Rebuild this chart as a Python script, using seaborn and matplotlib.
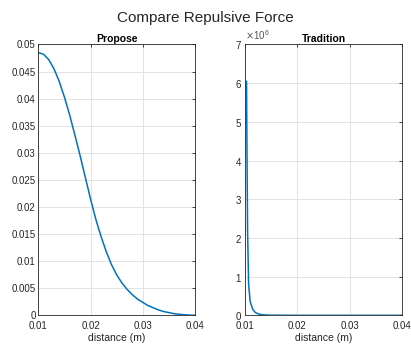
import matplotlib
matplotlib.use("Agg")
import numpy as np
import pandas as pd
import matplotlib.pyplot as plt
import seaborn as sns
from matplotlib.ticker import ScalarFormatter

# Propose curve
propose_x = [0.010, 0.011, 0.012, 0.013, 0.014, 0.015, 0.016, 0.017, 0.018, 0.019,
             0.020, 0.021, 0.022, 0.023, 0.024, 0.025, 0.026, 0.027, 0.028, 0.029,
             0.030, 0.031, 0.032, 0.033, 0.034, 0.035, 0.036, 0.037, 0.038, 0.039, 0.040]
propose_y = [0.0485, 0.0482, 0.0472, 0.0455, 0.0432, 0.0403, 0.0370, 0.0333, 0.0295, 0.0255,
             0.0215, 0.0178, 0.0146, 0.0118, 0.0094, 0.0075, 0.0060, 0.0048, 0.0038, 0.0030,
             0.0024, 0.0018, 0.0014, 0.0010, 0.0007, 0.0005, 0.0003, 0.00018, 0.0001, 0.00004, 0.0]

# Tradition curve
tradition_x = [0.0103, 0.0104, 0.0105, 0.0107, 0.0110, 0.0115, 0.0120, 0.0125, 0.0130,
               0.0140, 0.0150, 0.0200, 0.0300, 0.0400]
tradition_y = [6.05e6, 4.0e6, 2.2e6, 0.8e6, 0.35e6, 0.15e6, 0.07e6, 0.04e6, 0.02e6,
               0.008e6, 0.003e6, 0.0002e6, 0.0, 0.0]

x_ticks = [0.01, 0.02, 0.03, 0.04]
propose_yticks = [0, 0.005, 0.01, 0.015, 0.02, 0.025, 0.03, 0.035, 0.04, 0.045, 0.05]
tradition_yticks = [0, 1e6, 2e6, 3e6, 4e6, 5e6, 6e6, 7e6]

sns.set_style("white")
plt.rcParams["font.family"] = ["Liberation Sans", "DejaVu Sans"]

line_color = "#0072BD"
fig = plt.figure(figsize=(4.11, 3.45), dpi=100)
ax1 = fig.add_axes([0.0932, 0.0861, 0.381, 0.785])
ax2 = fig.add_axes([0.596, 0.0861, 0.382, 0.785])

df_p = pd.DataFrame({"x": propose_x, "y": propose_y})
df_t = pd.DataFrame({"x": tradition_x, "y": tradition_y})
sns.lineplot(data=df_p, x="x", y="y", ax=ax1, color=line_color, linewidth=1.1)
sns.lineplot(data=df_t, x="x", y="y", ax=ax2, color=line_color, linewidth=1.1)

for ax, yt, ylim, title in [(ax1, propose_yticks, (0, 0.05), "Propose"),
                            (ax2, tradition_yticks, (0, 7e6), "Tradition")]:
    ax.set_xlim(0.01, 0.04)
    ax.set_ylim(*ylim)
    ax.set_xticks(x_ticks)
    ax.set_xticklabels([f"{t:g}" for t in x_ticks])
    ax.set_yticks(yt)
    ax.grid(True, color="#e3e3e3", linewidth=0.7)
    ax.tick_params(direction="in", length=2.5, width=0.6, labelsize=7,
                   colors="#262626", top=True, right=True, pad=2)
    ax.tick_params(axis="x", pad=4)
    for s in ax.spines.values():
        s.set_color("#262626")
        s.set_linewidth(0.6)
    ax.set_xlabel("distance (m)", fontsize=7.5, color="#262626", labelpad=1.5)
    ax.set_ylabel("")
    ax.set_title(title, fontsize=7.5, fontweight="bold", color="#000000", pad=2)

ax1.set_yticklabels([f"{t:g}" for t in propose_yticks])
fmt = ScalarFormatter(useMathText=True)
fmt.set_powerlimits((0, 0))
ax2.yaxis.set_major_formatter(fmt)
ax2.yaxis.get_offset_text().set_fontsize(7)
ax2.yaxis.get_offset_text().set_color("#555555")

fig.suptitle("Compare Repulsive Force", fontsize=11, y=0.967)
fig.savefig("out.png", dpi=100)
